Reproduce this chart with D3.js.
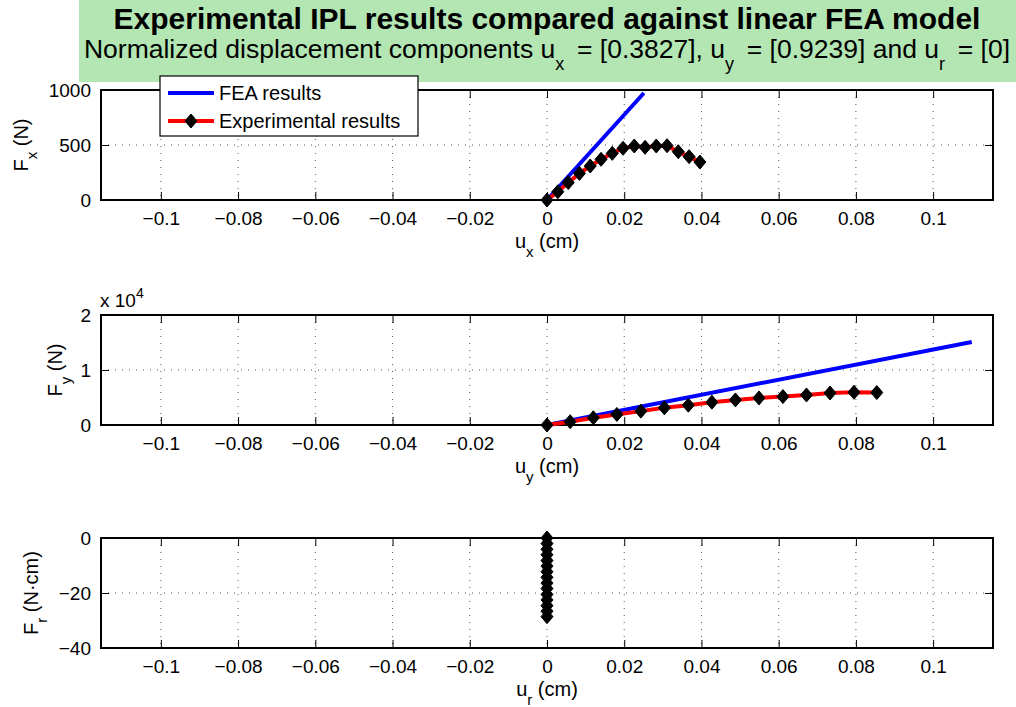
<!DOCTYPE html>
<html>
<head>
<meta charset="utf-8">
<script src="https://cdn.jsdelivr.net/npm/d3@7"></script>
<style>
  body { margin: 0; background: #fff; }
  svg { display: block; font-family: "Liberation Sans", Arial, Helvetica, sans-serif; }
</style>
</head>
<body>
<div id="chart"></div>
<script>
// experimental points and FEA lines
var uxExp = [0, 0.0028, 0.0055, 0.0084, 0.0112, 0.0140, 0.0169, 0.0197, 0.0226, 0.0254, 0.0283, 0.0311, 0.0340, 0.0368, 0.0396];
var fxExp = [0, 75, 158, 242, 309, 370, 424, 470, 491, 479, 491, 494, 439, 394, 345];
var uyExp = [0, 0.0060, 0.0120, 0.0181, 0.0243, 0.0304, 0.0366, 0.0427, 0.0488, 0.0549, 0.0611, 0.0672, 0.0733, 0.0795, 0.0854];
var fyExp = [0, 600, 1320, 1920, 2520, 3120, 3600, 4140, 4560, 4920, 5170, 5460, 5820, 5950, 5900];
var urExp = [0, 0, 0, 0, 0, 0, 0, 0, 0, 0, 0, 0, 0, 0, 0];
var frExp = [0, -2.0, -4.1, -6.1, -8.2, -10.2, -12.3, -14.3, -16.4, -18.4, -20.5, -22.5, -24.6, -26.6, -28.6];

var feaUx = [0, 0.0251];
var feaFx = [0, 973];
var feaUy = [0, 0.11];
var feaFy = [0, 15100];

var xTicks = [-0.1, -0.08, -0.06, -0.04, -0.02, 0, 0.02, 0.04, 0.06, 0.08, 0.1];
var xTickLabels = ["\u22120.1", "\u22120.08", "\u22120.06", "\u22120.04", "\u22120.02", "0", "0.02", "0.04", "0.06", "0.08", "0.1"];
var fxTicks = [0, 500, 1000];
var fxTickLabels = ["0", "500", "1000"];
var fyTicks = [0, 10000, 20000];
var fyTickLabels = ["0", "1", "2"];
var frTicks = [-40, -20, 0];
var frTickLabels = ["\u221240", "\u221220", "0"];

var width = 1016, height = 707;
var svg = d3.select("#chart").append("svg")
    .attr("width", width)
    .attr("height", height);

var x = d3.scaleLinear().domain([-0.1155, 0.1155]).range([101, 993]);

var panels = [
    { top: 90, ydom: [0, 1000], ticks: fxTicks, labels: fxTickLabels, xs: uxExp, ys: fxExp, fx: feaUx, fy: feaFx,
      ylab: ["F", "x", " (N)"], ylabX: 28, xlab: ["u", "x", " (cm)"] },
    { top: 315, ydom: [0, 20000], ticks: fyTicks, labels: fyTickLabels, xs: uyExp, ys: fyExp, fx: feaUy, fy: feaFy,
      ylab: ["F", "y", " (N)"], ylabX: 62, xlab: ["u", "y", " (cm)"], exp4: true },
    { top: 538, ydom: [-40, 0], ticks: frTicks, labels: frTickLabels, xs: urExp, ys: frExp, fx: null, fy: null,
      ylab: ["F", "r", " (N\u00b7cm)"], ylabX: 38, xlab: ["u", "r", " (cm)"] }
];
var ph = 110;
var diamond = "M0,-7L6,0L0,7L-6,0Z";

// title block
svg.append("rect")
    .attr("x", 79).attr("y", 0)
    .attr("width", 937).attr("height", 82)
    .attr("fill", "rgb(179,230,179)");

svg.append("text")
    .attr("x", 547).attr("y", 29)
    .attr("text-anchor", "middle")
    .attr("font-size", 30).attr("font-weight", "bold")
    .text("Experimental IPL results compared against linear FEA model");

var sub = svg.append("text")
    .attr("x", 547).attr("y", 58)
    .attr("text-anchor", "middle")
    .attr("font-size", 26.5);
function subPart(t, s) {
    sub.append("tspan").text(t);
    sub.append("tspan").attr("dy", 12).attr("font-size", 18).text(s);
    sub.append("tspan").attr("dy", -12).text("\u2009");
}
subPart("Normalized displacement components u", "x");
subPart(" = [0.3827], u", "y");
subPart(" = [0.9239] and u", "r");
sub.append("tspan").text(" = [0]");

panels.forEach(function (p) {
    var y = d3.scaleLinear().domain(p.ydom).range([p.top + ph, p.top]);
    var g = svg.append("g");

    // grid
    g.selectAll(".vg").data(xTicks).enter().append("line")
        .attr("x1", function (d) { return x(d); }).attr("x2", function (d) { return x(d); })
        .attr("y1", p.top).attr("y2", p.top + ph)
        .attr("stroke", "#555").attr("stroke-width", 1).attr("stroke-dasharray", "1,6");
    g.selectAll(".hg").data(p.ticks.slice(1, -1)).enter().append("line")
        .attr("x1", x.range()[0]).attr("x2", x.range()[1])
        .attr("y1", function (d) { return y(d); }).attr("y2", function (d) { return y(d); })
        .attr("stroke", "#555").attr("stroke-width", 1).attr("stroke-dasharray", "1,6");

    // axes (ticks inside)
    g.append("g").attr("transform", "translate(0," + (p.top + ph) + ")")
        .call(d3.axisBottom(x).tickValues(xTicks).tickSizeInner(-8).tickSizeOuter(0).tickPadding(12)
            .tickFormat(function (d, i) { return xTickLabels[i]; }));
    g.append("g").attr("transform", "translate(0," + p.top + ")")
        .call(d3.axisTop(x).tickValues(xTicks).tickSizeInner(-8).tickSizeOuter(0).tickFormat(""));
    g.append("g").attr("transform", "translate(" + x.range()[0] + ",0)")
        .call(d3.axisLeft(y).tickValues(p.ticks).tickSizeInner(-8).tickSizeOuter(0).tickPadding(10)
            .tickFormat(function (d, i) { return p.labels[i]; }));
    g.append("g").attr("transform", "translate(" + x.range()[1] + ",0)")
        .call(d3.axisRight(y).tickValues(p.ticks).tickSizeInner(-8).tickSizeOuter(0).tickFormat(""));
    g.selectAll(".domain").remove();
    g.selectAll(".tick line").attr("stroke", "#000").attr("stroke-width", 1);
    g.selectAll(".tick text").attr("font-size", 19).attr("font-family", "Liberation Sans, Arial, sans-serif").attr("fill", "#000");

    g.append("rect")
        .attr("x", x.range()[0]).attr("y", p.top)
        .attr("width", x.range()[1] - x.range()[0]).attr("height", ph)
        .attr("fill", "none").attr("stroke", "#000").attr("stroke-width", 2);

    if (p.exp4) {
        var e = g.append("text").attr("x", 100).attr("y", p.top - 8).attr("font-size", 19).text("x 10");
        e.append("tspan").attr("dy", -9).attr("font-size", 14).text("4");
    }

    // FEA line
    if (p.fx) {
        var fea = p.fx.map(function (d, i) { return [d, p.fy[i]]; });
        g.append("path").datum(fea)
            .attr("d", d3.line().x(function (d) { return x(d[0]); }).y(function (d) { return y(d[1]); }))
            .attr("fill", "none").attr("stroke", "#0000ff").attr("stroke-width", 4);
    }

    // experimental
    var pts = p.xs.map(function (d, i) { return [d, p.ys[i]]; });
    g.append("path").datum(pts)
        .attr("d", d3.line().x(function (d) { return x(d[0]); }).y(function (d) { return y(d[1]); }))
        .attr("fill", "none").attr("stroke", "#ff0000").attr("stroke-width", 4);
    g.selectAll(".mk").data(pts).enter().append("path")
        .attr("d", diamond)
        .attr("transform", function (d) { return "translate(" + x(d[0]) + "," + y(d[1]) + ")"; })
        .attr("fill", "#000").attr("stroke", "#000").attr("stroke-width", 1);

    // axis labels
    var xl = g.append("text").attr("x", x(0)).attr("y", p.top + ph + 48)
        .attr("text-anchor", "middle").attr("font-size", 20);
    xl.append("tspan").text(p.xlab[0]);
    xl.append("tspan").attr("dy", 9).attr("font-size", 15).text(p.xlab[1]);
    xl.append("tspan").attr("dy", -9).text(p.xlab[2]);

    var yl = g.append("text")
        .attr("transform", "translate(" + p.ylabX + "," + (p.top + ph / 2) + ") rotate(-90)")
        .attr("text-anchor", "middle").attr("font-size", 20);
    yl.append("tspan").text(p.ylab[0]);
    yl.append("tspan").attr("dy", 9).attr("font-size", 15).text(p.ylab[1]);
    yl.append("tspan").attr("dy", -9).text(p.ylab[2]);
});

// legend
var lg = svg.append("g");
lg.append("rect").attr("x", 160).attr("y", 76).attr("width", 258).attr("height", 60)
    .attr("fill", "#fff").attr("stroke", "#000").attr("stroke-width", 1.2);
lg.append("line").attr("x1", 168).attr("x2", 214).attr("y1", 93).attr("y2", 93)
    .attr("stroke", "#0000ff").attr("stroke-width", 4);
lg.append("text").attr("x", 219).attr("y", 100).attr("font-size", 20).text("FEA results");
lg.append("line").attr("x1", 168).attr("x2", 214).attr("y1", 121).attr("y2", 121)
    .attr("stroke", "#ff0000").attr("stroke-width", 4);
lg.append("path").attr("d", diamond).attr("transform", "translate(191,121)")
    .attr("fill", "#000").attr("stroke", "#000");
lg.append("text").attr("x", 219).attr("y", 128).attr("font-size", 20).text("Experimental results");
</script>
</body>
</html>
